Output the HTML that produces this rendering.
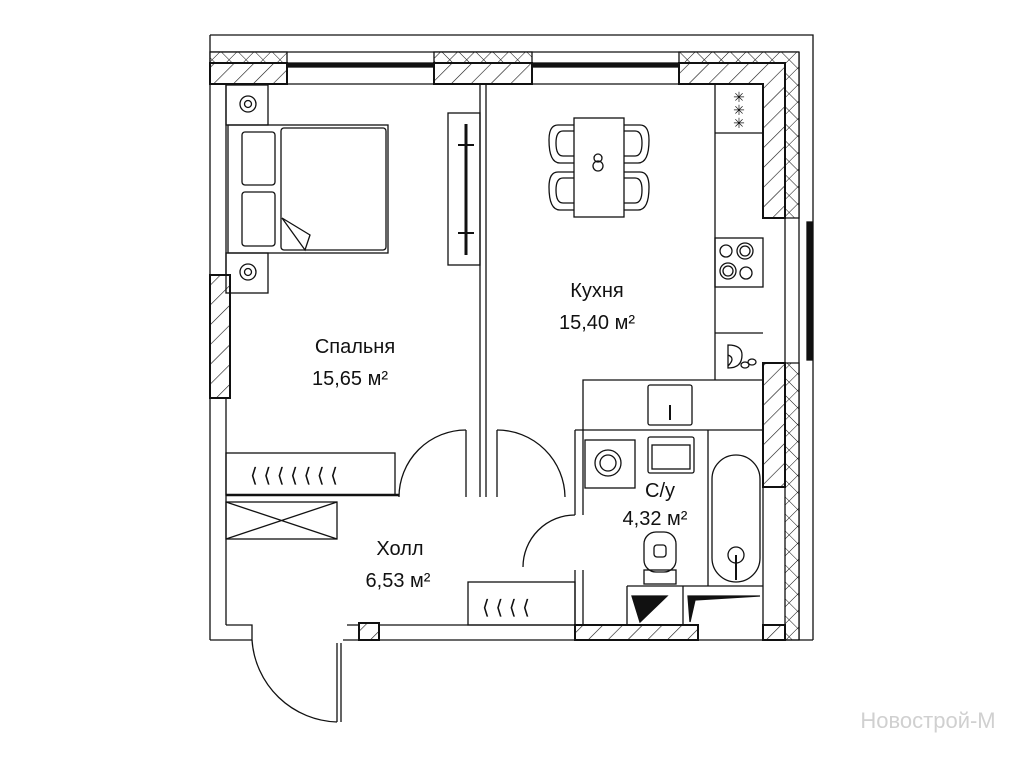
<!DOCTYPE html>
<html><head><meta charset="utf-8"><style>
html,body{margin:0;padding:0;background:#fff}
svg{display:block}
text{font-family:"Liberation Sans",sans-serif;fill:#111}
</style></head><body>
<svg width="1024" height="768" viewBox="0 0 1024 768" xmlns="http://www.w3.org/2000/svg">
<defs>
<pattern id="diag" patternUnits="userSpaceOnUse" width="14" height="14" patternTransform="rotate(45)">
<rect width="14" height="14" fill="#fff"/><line x1="0" y1="0" x2="0" y2="14" stroke="#111" stroke-width="1.2"/></pattern>
<pattern id="cross" patternUnits="userSpaceOnUse" width="12" height="12" patternTransform="rotate(45)">
<rect width="12" height="12" fill="#fff"/><line x1="0" y1="0" x2="0" y2="12" stroke="#111" stroke-width="1"/><line x1="0" y1="0" x2="12" y2="0" stroke="#111" stroke-width="1"/></pattern>
</defs>
<g fill="none" stroke="#111" stroke-width="1.3">
<path d="M210 35 H813 V640"/>
<line x1="210" y1="35" x2="210" y2="640"/>
<line x1="210" y1="52" x2="799" y2="52"/>
<line x1="799" y1="52" x2="799" y2="640"/>
<rect x="210" y="52" width="77" height="11" fill="url(#cross)"/>
<rect x="210" y="63" width="77" height="21" fill="url(#diag)" stroke-width="2"/>
<rect x="434" y="52" width="98" height="11" fill="url(#cross)"/>
<rect x="434" y="63" width="98" height="21" fill="url(#diag)" stroke-width="2"/>
<path d="M679 52 H799 V218 H785 V63 H679 Z" fill="url(#cross)"/>
<path d="M679 63 H785 V218 H763 V84 H679 Z" fill="url(#diag)" stroke-width="2"/>
<rect x="287" y="63" width="147" height="4" fill="#111"/>
<rect x="532" y="63" width="147" height="4" fill="#111"/>
<line x1="287" y1="84" x2="434" y2="84"/>
<line x1="532" y1="84" x2="679" y2="84"/>
<line x1="785" y1="218" x2="785" y2="363"/>
<rect x="807" y="222" width="5" height="138" fill="#111"/>
<path d="M785 363 H799 V640 H785 Z" fill="url(#cross)"/>
<line x1="763" y1="487" x2="763" y2="625"/>
<rect x="763" y="625" width="22" height="15" fill="url(#diag)" stroke-width="2"/>
<rect x="763" y="363" width="22" height="124" fill="url(#diag)" stroke-width="2"/>
<line x1="226" y1="84" x2="226" y2="275"/>
<line x1="226" y1="398" x2="226" y2="625"/>
<rect x="210" y="275" width="20" height="123" fill="url(#diag)" stroke-width="2"/>
<path d="M210 640 H252 V625 H226"/>
<line x1="347" y1="625" x2="575" y2="625"/>
<line x1="343" y1="640" x2="813" y2="640"/>
<rect x="359" y="623" width="20" height="17" fill="url(#diag)" stroke-width="2"/>
<rect x="575" y="625" width="123" height="15" fill="url(#diag)" stroke-width="2"/>
<line x1="337" y1="643" x2="337" y2="722"/><line x1="341" y1="643" x2="341" y2="722"/>
<path d="M252 640 A88 88 0 0 0 337 722"/>
<line x1="480" y1="84" x2="480" y2="497"/><line x1="486" y1="84" x2="486" y2="497"/>
<line x1="466" y1="430" x2="466" y2="497"/>
<path d="M466 430 A67 67 0 0 0 399 497"/>
<line x1="497" y1="430" x2="497" y2="497"/>
<path d="M497 430 A68 68 0 0 1 565 497"/>
<path d="M575 515 A52 52 0 0 0 523 567"/>
<rect x="226" y="85" width="42" height="40"/><circle cx="248" cy="104" r="8"/><circle cx="248" cy="104" r="3.5"/>
<rect x="226" y="253" width="42" height="40"/><circle cx="248" cy="272" r="8"/><circle cx="248" cy="272" r="3.5"/>
<rect x="228" y="125" width="160" height="128"/>
<rect x="242" y="132" width="33" height="53" rx="3"/><rect x="242" y="192" width="33" height="54" rx="3"/>
<rect x="281" y="128" width="105" height="122" rx="3"/>
<path d="M282 218 L310 235 L305 250 Z"/>
<rect x="448" y="113" width="32" height="152"/>
<line x1="466" y1="124" x2="466" y2="255" stroke-width="3"/>
<line x1="458" y1="145" x2="474" y2="145" stroke-width="2"/><line x1="458" y1="233" x2="474" y2="233" stroke-width="2"/>
<rect x="574" y="118" width="50" height="99"/>
<path d="M574 125 H558 Q549 125 549 140 Q549 163 560 163 H574 M574 131 H563 Q556 131 556 143 Q556 156 563 156 H574"/>
<path d="M574 172 H558 Q549 172 549 187 Q549 210 560 210 H574 M574 178 H563 Q556 178 556 190 Q556 203 563 203 H574"/>
<path d="M624 125 H640 Q649 125 649 140 Q649 163 638 163 H624 M624 131 H635 Q642 131 642 143 Q642 156 635 156 H624"/>
<path d="M624 172 H640 Q649 172 649 187 Q649 210 638 210 H624 M624 178 H635 Q642 178 642 190 Q642 203 635 203 H624"/>
<circle cx="598" cy="158" r="4"/><circle cx="598" cy="166" r="5"/>
<line x1="715" y1="84" x2="715" y2="380"/>
<line x1="715" y1="133" x2="763" y2="133"/>
<rect x="715" y="238" width="48" height="49"/>
<circle cx="726" cy="251" r="6"/><circle cx="745" cy="251" r="8"/><circle cx="745" cy="251" r="5"/>
<circle cx="728" cy="271" r="8"/><circle cx="728" cy="271" r="5"/><circle cx="746" cy="273" r="6"/>
<line x1="715" y1="333" x2="763" y2="333"/>
<path d="M728 345 Q742 345 742 355 Q742 368 728 368 Z M728 355 Q736 358 728 366"/>
<ellipse cx="745" cy="365" rx="4" ry="3"/><ellipse cx="752" cy="362" rx="4" ry="3"/>
<path d="M583 430 V380 H763"/>
<line x1="575" y1="430" x2="763" y2="430"/>
<rect x="648" y="385" width="44" height="40" rx="2"/>
<line x1="670" y1="405" x2="670" y2="420" stroke-width="2"/>
<line x1="575" y1="430" x2="575" y2="515"/><line x1="583" y1="430" x2="583" y2="515"/>
<line x1="575" y1="570" x2="575" y2="625"/><line x1="583" y1="570" x2="583" y2="625"/>
<rect x="585" y="440" width="50" height="48"/><circle cx="608" cy="463" r="13"/><circle cx="608" cy="463" r="8"/>
<rect x="648" y="437" width="46" height="36" rx="2"/><rect x="652" y="445" width="38" height="24"/>
<line x1="708" y1="430" x2="708" y2="586"/>
<rect x="712" y="455" width="48" height="127" rx="24"/>
<circle cx="736" cy="555" r="8"/><line x1="736" y1="555" x2="736" y2="580" stroke-width="2"/>
<rect x="644" y="532" width="32" height="40" rx="12"/><rect x="654" y="545" width="12" height="12" rx="3"/>
<rect x="644" y="570" width="32" height="14"/>
<line x1="627" y1="586" x2="763" y2="586"/>
<path d="M627 586 V625 M683 586 V625"/>
<path d="M632 596 H667 L640 622 Z" fill="#111"/><path d="M688 596 H760 L695 600 L690 622 Z" fill="#111"/>
<rect x="226" y="453" width="169" height="42"/>
<line x1="226" y1="495" x2="399" y2="495" stroke-width="2.5"/>
<rect x="226" y="502" width="111" height="37"/><path d="M226 502 L337 539 M337 502 L226 539"/>
<rect x="468" y="582" width="107" height="43"/>
</g>
<g font-size="14" stroke="none" fill="#111" text-anchor="middle">
<text x="739" y="102">✳</text><text x="739" y="115">✳</text><text x="739" y="128">✳</text>
</g>
<g font-size="20" stroke="none" fill="#111">
<text x="250" y="482">⟨ ⟨ ⟨ ⟨ ⟨ ⟨ ⟨</text>
<text x="482" y="614">⟨ ⟨ ⟨ ⟨</text>
</g>
<g font-size="20" text-anchor="middle">
<text x="355" y="353">Спальня</text>
<text x="350" y="385">15,65 м²</text>
<text x="597" y="297">Кухня</text>
<text x="597" y="329">15,40 м²</text>
<text x="400" y="555">Холл</text>
<text x="398" y="587">6,53 м²</text>
<text x="660" y="497">С/у</text>
<text x="655" y="525">4,32 м²</text>
</g>
<text x="928" y="728" font-size="22" text-anchor="middle" style="fill:#d0d0d0">Новострой-М</text>
</svg>
</body></html>
